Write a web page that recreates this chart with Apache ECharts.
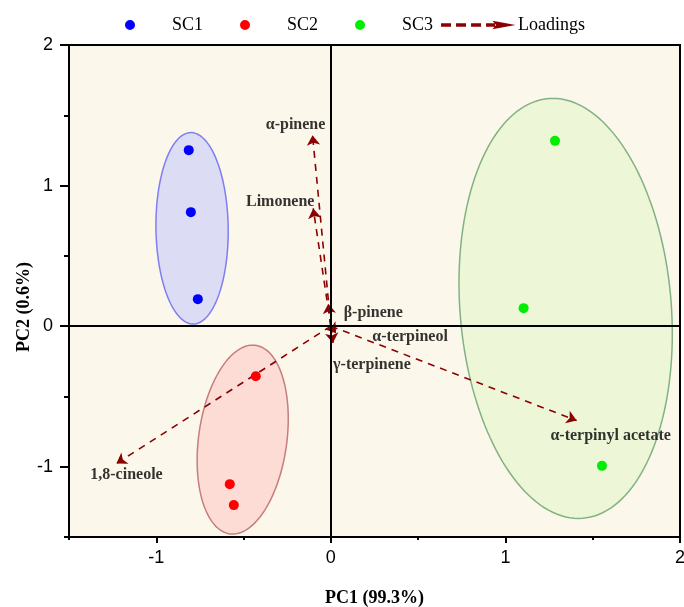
<!DOCTYPE html>
<html>
<head>
<meta charset="utf-8">
<script src="https://cdn.jsdelivr.net/npm/echarts@6/dist/echarts.min.js"></script>
<style>
  html, body { margin: 0; padding: 0; background: #ffffff; }
  #chart { width: 684px; height: 607px; }
</style>
</head>
<body>
<div id="chart"></div>
<script>
// Sample scores on PC1 / PC2
const sc1X = [-0.814, -0.802, -0.762];
const sc1Y = [1.252, 0.811, 0.192];
const sc2X = [-0.430, -0.579, -0.556];
const sc2Y = [-0.356, -1.124, -1.273];
const sc3X = [1.284, 1.104, 1.553];
const sc3Y = [1.318, 0.128, -0.994];

// Confidence ellipses: centre, half-extent along each axis, x-y correlation
const ellipseGroups = ['SC1', 'SC2', 'SC3'];
const ellipseCx = [-0.795, -0.505, 1.345];
const ellipseCy = [0.696, -0.807, 0.126];
const ellipseHx = [0.207, 0.261, 0.611];
const ellipseHy = [0.681, 0.672, 1.494];
const ellipseRho = [-0.03, 0.22, -0.12];

// Loading vectors (drawn from the origin)
const loadingNames = ['α-pinene', 'Limonene', 'β-pinene', 'α-terpineol', 'γ-terpinene', '1,8-cineole', 'α-terpinyl acetate'];
const loadingX = [-0.105, -0.101, -0.015, 0.030, 0.012, -1.228, 1.408];
const loadingY = [1.358, 0.837, 0.160, -0.050, -0.120, -0.977, -0.672];

// Tick labels
const xTickValues = [-1, 0, 1, 2];
const yTickValues = [-1, 0, 1, 2];

// Styling
const groupColors = ['#0000FF', '#FF0000', '#00EE00'];
const ellipseFill = ['#DCDCF5', '#FCDCD5', '#EEF6D8'];
const ellipseStroke = ['#7E7EF2', '#C47E7E', '#82B282'];
const loadingColor = '#8B0000';
const labelOffsets = [[-17, -10], [-33, -7], [45, 9], [74, 4], [39, 22], [10, 11], [34, 15]];

const serif = 'Liberation Serif';
const sans = 'Liberation Sans';

// Legend glyphs, each laid out in a 74 x 10 box
const boxCorners = 'path://M0 0L0 0ZM74 10L74 10Z';
const dotIcon = boxCorners + 'M32 5A5 5 0 1 1 42 5A5 5 0 1 1 32 5Z';
const arrowIcon = boxCorners +
  'M3 4.3H11V5.7H3Z M18 4.3H26V5.7H18Z M33 4.3H41V5.7H33Z M48 4.3H55V5.7H48Z' +
  'M56 2.2L71 5L56 7.8L58.5 5Z';

const chart = echarts.init(document.getElementById('chart'), null, { renderer: 'canvas' });

const axisCommon = {
  type: 'value',
  interval: 0.5,
  splitLine: { show: false },
  axisLine: { show: true, onZero: false, lineStyle: { color: '#000', width: 2 } }
};

const option = {
  animation: false,
  backgroundColor: '#ffffff',
  grid: {
    left: 69, right: 4, top: 45, bottom: 70,
    outerBoundsMode: 'none', containLabel: false,
    show: true, backgroundColor: '#FCF7EB', borderColor: '#000', borderWidth: 2
  },
  legend: {
    left: 93, top: 16, padding: 0,
    itemWidth: 74, itemHeight: 10, itemGap: 5,
    textStyle: { fontFamily: serif, fontSize: 18, color: '#000' },
    data: [
      { name: 'SC1', icon: dotIcon },
      { name: 'SC2', icon: dotIcon },
      { name: 'SC3', icon: dotIcon },
      { name: 'Loadings', icon: arrowIcon, itemStyle: { color: loadingColor } }
    ]
  },
  xAxis: [
    Object.assign({}, axisCommon, {
      min: -1.5, max: 2,
      axisTick: { show: true, length: 6, customValues: xTickValues, lineStyle: { color: '#000', width: 2 } },
      axisLabel: {
        customValues: xTickValues, margin: 12,
        fontFamily: sans, fontSize: 18, color: '#000',
        formatter: v => (Number.isInteger(v) ? String(v) : '')
      },
      name: 'PC1 (99.3%)', nameLocation: 'middle', nameGap: 52,
      nameTextStyle: { fontFamily: serif, fontWeight: 'bold', fontSize: 18, color: '#000' }
    }),
    {
      type: 'value', min: -1.5, max: 2, interval: 0.5, position: 'bottom',
      axisLine: { show: false, onZero: false }, axisLabel: { show: false }, splitLine: { show: false },
      axisTick: { show: true, length: 3, lineStyle: { color: '#000', width: 2 } }
    }
  ],
  yAxis: [
    Object.assign({}, axisCommon, {
      min: -1.5, max: 2,
      axisTick: { show: true, length: 9, customValues: yTickValues, lineStyle: { color: '#000', width: 2 } },
      axisLabel: {
        customValues: yTickValues, margin: 16,
        fontFamily: sans, fontSize: 18, color: '#000',
        formatter: v => (Number.isInteger(v) ? String(v) : '')
      },
      name: 'PC2 (0.6%)', nameLocation: 'middle', nameGap: 36, nameMoveOverlap: false,
      nameTextStyle: { fontFamily: serif, fontWeight: 'bold', fontSize: 18, color: '#000', padding: [0, 32, 0, 0] }
    }),
    {
      type: 'value', min: -1.5, max: 2, interval: 0.5, position: 'left',
      axisLine: { show: false, onZero: false }, axisLabel: { show: false }, splitLine: { show: false },
      axisTick: { show: true, length: 5, lineStyle: { color: '#000', width: 2 } }
    }
  ],
  series: [
    {
      name: 'Ellipses', type: 'custom', coordinateSystem: 'cartesian2d',
      xAxisIndex: 0, yAxisIndex: 0, silent: true, z: 1,
      data: ellipseGroups.map((g, i) => [ellipseCx[i], ellipseCy[i], ellipseHx[i], ellipseHy[i], ellipseRho[i], i]),
      encode: { x: 0, y: 1 },
      renderItem: (params, api) => {
        const cx = api.value(0), cy = api.value(1);
        const hx = api.value(2), hy = api.value(3), rho = api.value(4), k = api.value(5);
        const s = Math.sqrt(1 - rho * rho);
        const pts = [];
        for (let j = 0; j < 160; j++) {
          const t = 2 * Math.PI * j / 160;
          pts.push(api.coord([cx + hx * Math.cos(t), cy + hy * (rho * Math.cos(t) + s * Math.sin(t))]));
        }
        return {
          type: 'polygon', shape: { points: pts },
          style: { fill: ellipseFill[k], stroke: ellipseStroke[k], lineWidth: 1.5 }
        };
      },
      markLine: {
        silent: true, symbol: ['none', 'none'], label: { show: false },
        lineStyle: { color: '#000', width: 2, type: 'solid' },
        data: [{ xAxis: 0 }, { yAxis: 0 }]
      }
    },
    {
      name: 'Loadings', type: 'lines', coordinateSystem: 'cartesian2d',
      xAxisIndex: 0, yAxisIndex: 0, z: 3,
      symbol: ['none', 'arrow'], symbolSize: 10,
      lineStyle: { color: loadingColor, width: 1.6, type: [7, 6], opacity: 1 },
      itemStyle: { color: loadingColor },
      data: loadingNames.map((n, i) => ({ name: n, coords: [[0, 0], [loadingX[i], loadingY[i]]] }))
    },
    {
      name: 'Loading labels', type: 'scatter', xAxisIndex: 0, yAxisIndex: 0,
      symbolSize: 0, silent: true, z: 4,
      data: loadingNames.map((n, i) => ({
        name: n, value: [loadingX[i], loadingY[i]],
        label: { offset: labelOffsets[i] }
      })),
      label: {
        show: true, position: 'inside', formatter: p => p.name,
        fontFamily: serif, fontWeight: 'bold', fontSize: 16, color: '#000'
      }
    },
    {
      name: 'SC1', type: 'scatter', symbolSize: 10, z: 5,
      itemStyle: { color: groupColors[0], opacity: 1 },
      data: sc1X.map((x, i) => [x, sc1Y[i]])
    },
    {
      name: 'SC2', type: 'scatter', symbolSize: 10, z: 5,
      itemStyle: { color: groupColors[1], opacity: 1 },
      data: sc2X.map((x, i) => [x, sc2Y[i]])
    },
    {
      name: 'SC3', type: 'scatter', symbolSize: 10, z: 5,
      itemStyle: { color: groupColors[2], opacity: 1 },
      data: sc3X.map((x, i) => [x, sc3Y[i]])
    }
  ]
};

chart.setOption(option);
</script>
</body>
</html>
